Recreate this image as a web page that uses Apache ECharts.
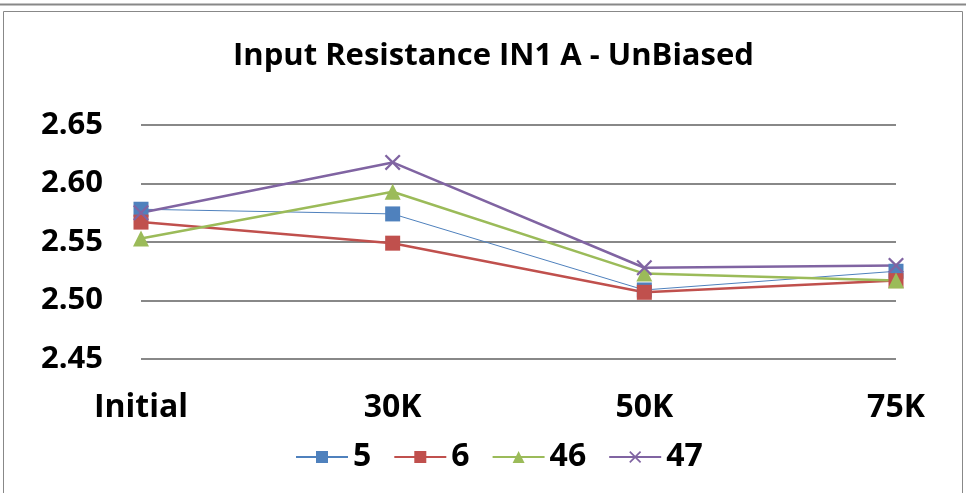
<!DOCTYPE html>
<html>
<head>
<meta charset="utf-8">
<script src="https://cdn.jsdelivr.net/npm/echarts@6/dist/echarts.min.js"></script>
<style>
  html, body { margin: 0; padding: 0; background: #fff; }
  #chart { width: 966px; height: 493px; }
</style>
</head>
<body>
<div id="chart"></div>
<script>
const categories = ["Initial", "30K", "50K", "75K"];
const s5 = [2.578, 2.574, 2.509, 2.525];
const s6 = [2.567, 2.549, 2.507, 2.517];
const s46 = [2.553, 2.593, 2.523, 2.517];
const s47 = [2.575, 2.618, 2.528, 2.530];

const font = "'Open Sans', 'Noto Sans', sans-serif";
// thin X drawn as a filled polygon so it shows as a mark
const cross = "path://M0,1 L1,0 L5,4 L9,0 L10,1 L6,5 L10,9 L9,10 L5,6 L1,10 L0,9 L4,5 Z";

const chart = echarts.init(document.getElementById("chart"), null, { renderer: "canvas" });

function line(name, data, color, symbol, size, width) {
  return {
    name,
    type: "line",
    data,
    symbol,
    symbolSize: size,
    showAllSymbol: true,
    itemStyle: { color },
    lineStyle: { color, width },
    emphasis: { disabled: true }
  };
}

chart.setOption({
  animation: false,
  backgroundColor: "#fff",
  graphic: [
    { type: "line", shape: { x1: 0, y1: 4.5, x2: 966, y2: 4.5 }, style: { stroke: "#888", lineWidth: 2 } },
    { type: "rect", shape: { x: 3.5, y: 11.5, width: 959, height: 490 }, style: { fill: null, stroke: "#888", lineWidth: 1 } }
  ],
  title: {
    text: "Input Resistance IN1 A - UnBiased",
    left: 228,
    top: 36,
    textStyle: { color: "#000", fontSize: 31, fontWeight: "bold", fontFamily: font }
  },
  legend: {
    bottom: 15,
    left: 290,
    itemWidth: 52,
    itemHeight: 15,
    itemGap: 22,
    textStyle: { color: "#000", fontSize: 32, fontWeight: "bold", fontFamily: font },
    data: ["5", "6", "46", "47"]
  },
  grid: { left: 141, right: 70, top: 125, bottom: 134 },
  xAxis: {
    type: "category",
    data: categories,
    boundaryGap: false,
    axisLine: { show: false },
    axisTick: { show: false },
    axisLabel: { color: "#000", fontSize: 32, fontWeight: "bold", fontFamily: font, margin: 33 }
  },
  yAxis: {
    type: "value",
    min: 2.45,
    max: 2.65,
    interval: 0.05,
    axisLine: { show: false },
    axisTick: { show: false },
    axisLabel: {
      color: "#000", fontSize: 31, fontWeight: "bold", fontFamily: font, margin: 38,
      formatter: v => v.toFixed(2)
    },
    splitLine: { lineStyle: { color: "#888", width: 2 } }
  },
  series: [
    line("5", s5, "#4f81bd", "rect", 15, 1),
    line("6", s6, "#c0504d", "rect", 15, 2.5),
    line("46", s46, "#9bbb59", "triangle", 16, 2.5),
    line("47", s47, "#8064a2", cross, 16, 2.5)
  ]
});
</script>
</body>
</html>
